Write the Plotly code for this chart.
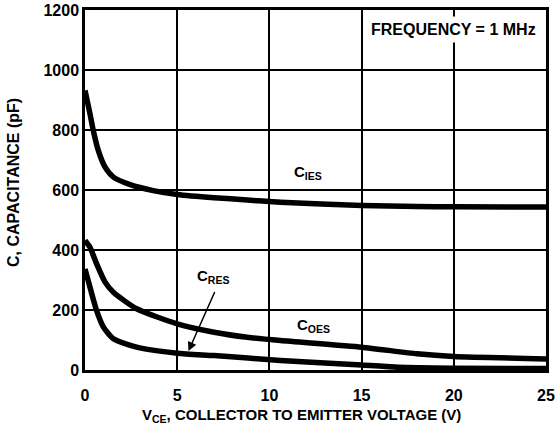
import plotly.graph_objects as go

# Data
vce_ies = [0, 0.27, 0.45, 0.72, 1.09, 1.54, 2.45, 3.7, 5, 7, 8.8, 10.6, 15, 18, 20, 25]
c_ies = [932, 854, 798, 732, 676, 643, 618, 598, 585, 574, 567, 559, 548, 545, 544, 543]

vce_oes = [0, 0.27, 0.63, 1.09, 1.54, 2.8, 5, 7, 8.8, 10.6, 15, 18, 20, 25]
c_oes = [432, 409, 354, 293, 259, 204, 154, 126, 109, 98, 76, 54, 45, 37]

vce_res = [0, 0.27, 0.63, 1.0, 1.54, 2.8, 5, 7, 10.6, 15, 17, 20, 25]
c_res = [337, 276, 198, 143, 104, 76, 56, 48, 32, 17, 9, 6, 5]

x_ticks = [0, 5, 10, 15, 20, 25]
y_ticks = [0, 200, 400, 600, 800, 1000, 1200]

FONT = "Liberation Sans, Arial, sans-serif"
L, R, T, B = 85, 10, 10, 66
W, H = 556, 436
pw, ph = W - L - R, H - T - B

fig = go.Figure()
for xs, ys in [(vce_ies, c_ies), (vce_oes, c_oes), (vce_res, c_res)]:
    fig.add_trace(go.Scatter(x=xs, y=ys, mode="lines",
                             line=dict(color="black", width=5.5, shape="spline", smoothing=0.6),
                             showlegend=False, hoverinfo="skip"))

tickfont = dict(family=FONT, size=16, color="black", weight="bold")
fig.update_layout(
    width=W, height=H,
    margin=dict(l=L, r=R, t=T, b=B, autoexpand=False),
    paper_bgcolor="white", plot_bgcolor="white",
    font=dict(family=FONT, size=15, color="black"),
    xaxis=dict(range=[0, 25], tickvals=x_ticks, ticktext=[str(v) for v in x_ticks],
               showgrid=True, gridcolor="black", gridwidth=2, automargin=False,
               showline=True, linecolor="black", linewidth=2.5, mirror=True,
               zeroline=False, ticks="", ticklabelstandoff=9, tickfont=tickfont),
    yaxis=dict(range=[0, 1200], tickvals=y_ticks, ticktext=[str(v) for v in y_ticks],
               showgrid=True, gridcolor="black", gridwidth=2, automargin=False,
               showline=True, linecolor="black", linewidth=2.5, mirror=True,
               zeroline=False, ticks="", ticklabelstandoff=0, tickfont=tickfont),
)

bold = dict(family=FONT, size=15, color="black", weight="bold")

fig.add_annotation(x=20, y=1135, xref="x", yref="y", text="FREQUENCY = 1 MHz",
                   showarrow=False, bgcolor="white", borderpad=4,
                   font=dict(family=FONT, size=16, color="black", weight="bold"))
fig.add_annotation(x=12.07, y=658, xref="x", yref="y", text="C<sub>IES</sub>",
                   showarrow=False, font=bold)
fig.add_annotation(x=12.4, y=148, xref="x", yref="y", text="C<sub>OES</sub>",
                   showarrow=False, font=bold)
fig.add_annotation(x=6.96, y=312, xref="x", yref="y", text="C<sub>RES</sub>",
                   showarrow=False, font=bold)
fig.add_annotation(x=5.61, y=63, ax=7.07, ay=265, xref="x", yref="y", axref="x", ayref="y",
                   text="", showarrow=True, arrowhead=2, arrowsize=1.2, arrowwidth=1.5,
                   arrowcolor="black")

fig.add_annotation(x=(301 - L) / pw, y=(H - B - 415) / ph, xref="paper", yref="paper",
                   xanchor="center", yanchor="middle",
                   text="V<sub>CE</sub>, COLLECTOR TO EMITTER VOLTAGE (V)",
                   showarrow=False, font=bold)
fig.add_annotation(x=(14 - L) / pw, y=(H - B - 183) / ph, xref="paper", yref="paper",
                   xanchor="center", yanchor="middle",
                   text="C, CAPACITANCE (pF)", textangle=-90,
                   showarrow=False, font=dict(family=FONT, size=16, color="black", weight="bold"))

fig.write_html("out.html", config={"displayModeBar": False},
               post_script="document.body.style.margin='0';")
